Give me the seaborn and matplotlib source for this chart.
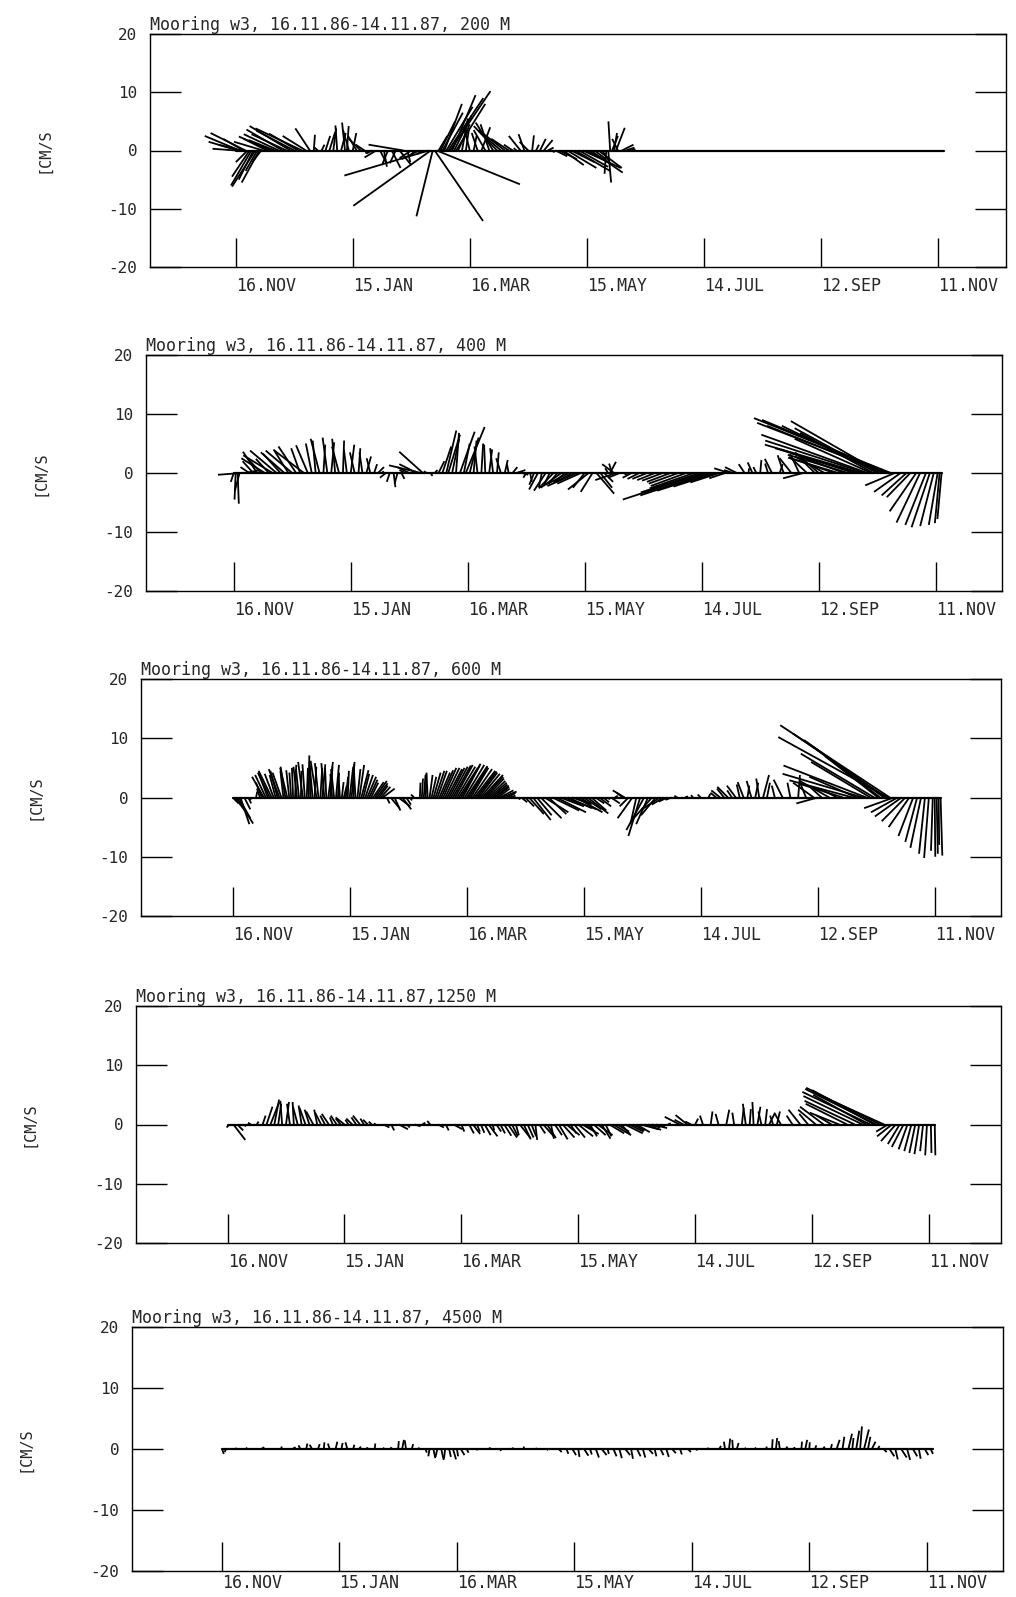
import numpy as np
import pandas as pd
import matplotlib
matplotlib.use("Agg")
import matplotlib.pyplot as plt
import seaborn as sns

# current sticks (day since 16.11.86, u east cm/s, v north cm/s)
sticks_200 = [
    (0, -4.0, 0.3), (1, -5.0, 1.5), (2, -6.0, 2.5), (3, -4.0, 1.0), (4, -3.5, 2.0), (5, -6.0, 3.0),
    (6, -2.0, -2.0), (7, -3.0, -4.5), (8, -3.5, -6.0), (9, -2.5, -5.0), (10, -4.0, -6.2), (11, -2.0, -3.5),
    (12, -3.0, -5.5), (13, -1.5, -2.0), (14, -5.0, 1.5), (16, -4.0, 2.0), (18, -5.5, 2.4), (20, -4.5, 1.8),
    (22, -6.0, 2.8), (24, -6.2, 3.6), (26, -6.0, 2.8), (28, -7.0, 4.2), (30, -6.5, 3.4), (32, -5.0, 2.9),
    (34, -8.0, 3.8), (36, -4.0, 2.5), (38, -2.5, 3.8), (40, 0.2, 2.7), (42, -0.5, 0.5), (44, 0.5, 1.0),
    (46, 0.8, 2.5), (48, 1.0, 3.2), (50, 0.5, 3.8), (52, -0.3, 4.3), (54, 0.8, 3.0), (56, -0.5, 4.8),
    (57, 0.3, 4.2), (58, -1.0, 3.5), (60, 0.6, 3.0), (62, -1.5, 2.5), (64, -2.0, 2.0), (66, -1.5, 1.0),
    (68, -0.5, -0.5), (70, -1.0, -0.5), (72, -2.0, -1.2), (74, 1.0, -2.0), (76, 0.5, -2.8), (78, -1.0, -2.5),
    (80, 1.5, -3.0), (82, -1.0, -2.2), (84, 2.0, -2.5), (86, -6.0, 1.0), (88, 0.5, -2.0), (90, -2.0, -1.3),
    (92, -1.0, -1.0), (94, -3.0, -1.5), (96, -1.0, -0.6), (99, -14.5, -4.3), (100, -13.3, -9.5),
    (101, -2.8, -11.3), (102, 8.3, -12.1), (103, 14.3, -5.8), (104, 1.5, 2.5), (105, 2.5, 5.0),
    (106, 3.5, 6.5), (107, 3.0, 8.0), (108, 4.5, 7.5), (109, 6.0, 9.0), (110, 6.9, 10.2), (111, 4.0, 9.5),
    (112, 3.0, 6.0), (113, 5.0, 8.0), (114, 2.0, 4.5), (116, 1.0, 5.5), (118, 0.5, 3.5), (120, -1.0, 4.0),
    (122, 0.5, 2.5), (124, -1.0, 3.0), (126, 1.5, 4.0), (128, -2.0, 3.5), (130, -1.5, 4.5), (132, -3.0, 4.8),
    (134, -4.0, 4.2), (136, -3.5, 3.0), (138, -4.5, 3.5), (140, -3.0, 2.0), (142, -1.5, 1.0), (144, -0.5, 0.4),
    (146, -2.0, 2.5), (148, -1.0, 2.8), (150, -1.5, 1.5), (152, 0.3, 2.6), (154, 0.5, 1.0), (156, 1.0, 2.0),
    (158, 1.5, 1.8), (160, 1.0, 0.5), (162, 0.5, -0.3), (164, 2.0, -1.0), (166, 3.0, -1.5), (168, 3.5, -2.5),
    (170, 5.0, -3.0), (172, 4.0, -2.0), (174, 6.0, -3.5), (176, 5.0, -2.8), (178, 6.5, -3.0), (180, 3.0, -1.5),
    (182, 5.5, -3.8), (184, 2.0, -1.5), (186, 4.0, -3.0), (188, 1.5, -2.5), (190, -0.3, -4.0), (191, 0.5, -5.5),
    (192, -0.3, 5.0), (193, 1.0, 2.5), (194, 0.5, 3.0), (195, 1.5, 3.9), (196, -1.0, 2.0), (198, 2.0, 1.0),
    (200, 1.5, 0.5), (202, 1.0, 0.2),
]

sticks_400 = [
    (0, -0.5, -1.5), (1, -0.2, -4.5), (2, 0.2, -5.2), (3, -0.8, -3.0), (4, -4.0, -0.3), (6, 2.5, 0.5),
    (8, -1.5, 1.0), (10, -1.8, 2.0), (12, -2.4, 3.6), (14, -2.5, 2.7), (16, -4.0, 2.5), (18, -2.2, 2.4),
    (20, -5.0, 3.0), (22, -4.5, 3.8), (24, -3.0, 3.3), (26, -4.0, 3.5), (28, -2.5, 4.0), (30, -4.5, 3.8),
    (32, -3.0, 4.5), (34, -1.5, 4.2), (36, -5.0, 3.8), (38, -2.0, 4.7), (40, -1.0, 5.0), (42, -0.5, 5.5),
    (44, -1.5, 5.8), (46, 0.3, 4.8), (48, -0.8, 6.0), (50, 0.5, 5.2), (52, -0.5, 5.8), (54, -1.2, 4.5),
    (56, 0.2, 5.5), (58, -0.5, 4.0), (60, 0.6, 4.8), (62, -0.8, 3.5), (64, 0.3, 4.2), (66, -0.5, 3.5),
    (68, 0.8, 2.8), (70, -0.6, 2.5), (72, 0.5, 1.5), (74, 1.0, 1.0), (76, 0.3, 0.3), (78, -1.0, -0.8),
    (80, -0.5, -1.5), (82, 0.3, -2.4), (84, -0.5, -1.8), (86, 0.5, -1.0), (88, -1.0, 0.5), (90, -2.0, 1.0),
    (92, 0.5, 0.3), (94, -3.0, 1.5), (96, -5.4, 1.3), (97, -4.0, 3.6), (99, -0.5, 0.3), (101, 0.3, -0.5),
    (103, 0.5, 0.5), (105, 1.0, 2.0), (107, 1.5, 4.5), (109, 1.7, 7.2), (110, 2.0, 6.5), (112, 1.2, 5.8),
    (114, 0.5, 6.8), (116, 2.5, 7.0), (118, 1.0, 5.0), (119, 3.2, 7.8), (121, 1.5, 6.0), (123, 0.5, 5.5),
    (125, -0.5, 4.5), (127, 0.3, 5.0), (129, -0.2, 4.8), (131, 0.5, 4.0), (133, -0.5, 4.2), (135, 0.3, 3.5),
    (137, -0.8, 2.5), (139, 0.5, 2.2), (141, -0.3, 1.5), (143, 0.8, 1.0), (145, 1.5, 0.5), (148, 1.0, -0.3),
    (150, -0.5, -0.8), (152, 0.3, -1.5), (154, -0.8, -2.0), (156, -1.5, -2.8), (158, -0.5, -2.4),
    (160, -2.0, -3.0), (162, -1.0, -2.2), (164, -2.5, -2.6), (166, -1.5, -1.8), (168, -3.5, -2.5),
    (170, -2.0, -1.6), (172, -4.0, -2.0), (174, -3.0, -1.5), (176, -5.0, -2.2), (178, -4.0, -1.8),
    (180, -2.0, -2.5), (182, -3.5, -2.8), (184, -2.0, -3.2), (186, 3.0, -3.5), (188, 2.0, -2.5),
    (190, 1.5, -1.5), (192, -0.5, 0.8), (193, 1.0, 1.9), (194, -0.5, 1.6), (195, -2.0, 1.5),
    (196, -3.5, -1.2), (198, -2.0, -0.8), (200, 0.5, -0.3), (204, -1.5, -0.8), (208, -2.0, -1.0),
    (212, -2.5, -1.0), (216, -3.0, -1.2), (220, -3.5, -1.3), (224, -4.0, -1.5), (228, -5.0, -1.8),
    (232, -6.0, -2.2), (236, -7.5, -2.6), (239, -10.0, -3.3), (241, -13.7, -4.5), (243, -11.4, -3.8),
    (245, -9.2, -3.0), (247, -7.1, -2.3), (249, -4.9, -1.6), (252, -2.7, -0.9), (254, -2.5, 0.8),
    (256, -1.5, 0.5), (258, -2.0, 1.0), (262, -1.0, 1.5), (264, 0.1, 0.8), (266, -0.8, 1.8), (268, -0.5, 1.0),
    (270, 0.2, 2.2), (274, -0.5, 1.6), (276, -1.2, 2.4), (280, 0.5, 1.5), (282, -1.0, 3.0), (286, -2.0, 2.5),
    (290, -1.5, 3.2), (292, -3.4, -0.9), (294, -3.0, 2.8), (298, -2.0, 2.0), (300, -4.0, 3.5),
    (303, -5.0, 2.8), (308, -7.3, 2.5), (310, -8.5, 2.6), (313, -9.0, 3.4), (315, -10.2, 3.1),
    (318, -12.4, 4.0), (320, -14.0, 4.2), (322, -16.4, 4.8), (324, -17.0, 5.5), (325, -18.0, 6.5),
    (327, -13.0, 5.8), (328, -12.4, 6.8), (330, -14.0, 7.6), (331, -16.5, 8.0), (332, -15.3, 8.8),
    (334, -20.0, 8.0), (335, -22.0, 8.5), (336, -21.5, 9.0), (337, -23.2, 9.3), (339, -5.0, -2.1),
    (342, -4.5, -3.2), (345, -4.2, -3.8), (347, -4.0, -4.1), (350, -4.5, -6.5), (352, -4.0, -8.4),
    (355, -3.5, -8.8), (357, -3.1, -9.2), (359, -2.3, -9.0), (361, -1.5, -8.8), (362, -0.8, -8.5),
    (363, -0.7, -7.8),
]

sticks_600 = [
    (0, 1.0, -1.0), (1, 2.0, -2.5), (2, 2.8, -4.4), (3, 2.0, -3.5), (4, 1.5, -4.5), (6, 1.0, -2.0),
    (8, 0.5, -1.0), (10, -0.5, -0.5), (12, 0.2, 1.0), (14, -0.5, 1.5), (15, -1.0, 2.5), (16, -2.0, 3.5),
    (17, -1.8, 3.8), (18, -1.5, 4.0), (19, -2.0, 4.2), (20, -2.2, 4.5), (21, -1.5, 4.0), (22, -1.0, 3.8),
    (23, -1.2, 4.5), (24, -1.8, 4.8), (25, -1.5, 4.2), (26, -0.5, 4.5), (27, -0.8, 5.2), (28, -1.2, 5.0),
    (29, -0.5, 4.6), (30, -0.3, 4.2), (31, -0.2, 5.0), (32, 0.2, 5.5), (33, -0.6, 5.2), (34, -0.5, 4.8),
    (35, 0.1, 4.5), (36, -0.8, 6.0), (37, -0.4, 5.6), (38, 0.2, 5.0), (39, 0.1, 7.1), (40, -0.2, 6.0),
    (41, -0.5, 5.5), (42, 0.3, 5.2), (43, -1.0, 6.2), (44, -0.6, 5.8), (45, 0.3, 5.0), (46, 0.5, 5.6),
    (47, -0.5, 5.8), (48, -0.2, 5.0), (49, 0.8, 6.0), (50, 0.4, 5.2), (51, -0.3, 4.0), (52, -0.5, 4.8),
    (53, 0.5, 5.5), (54, 0.2, 4.2), (55, -0.2, 3.0), (56, 0.3, 2.6), (57, 0.5, 2.0), (58, 0.4, 3.5),
    (59, 0.2, 4.5), (60, 0.6, 5.2), (61, 0.5, 6.0), (62, 0.1, 5.6), (63, -0.3, 5.0), (64, 0.5, 4.8),
    (65, 0.8, 5.5), (66, 1.2, 4.6), (67, 1.0, 4.0), (68, 1.3, 3.8), (69, 1.5, 3.5), (70, 1.4, 3.0),
    (71, 1.2, 2.5), (72, 1.8, 2.6), (73, 2.0, 2.8), (74, 1.8, 2.4), (75, 1.5, 2.0), (76, 1.6, 1.8),
    (77, 2.0, 1.5), (79, 0.5, -1.0), (81, 1.5, -1.8), (83, 1.0, -2.2), (85, 2.0, -1.5), (87, 1.5, -2.0),
    (89, 0.8, -1.2), (91, 0.3, -0.5), (93, -0.5, 0.5), (96, 0.1, 2.5), (97, 0.2, 3.2), (98, 0.3, 3.8),
    (99, 0.1, 4.0), (100, -0.2, 4.2), (101, 0.5, 3.8), (102, 0.8, 3.5), (103, 1.2, 4.2), (104, 1.5, 4.5),
    (105, 1.6, 4.5), (106, 1.8, 4.2), (107, 2.0, 4.6), (108, 2.2, 5.0), (109, 2.4, 5.0), (110, 2.5, 4.8),
    (111, 2.6, 5.0), (112, 2.8, 5.2), (113, 3.0, 5.4), (114, 3.0, 5.5), (115, 3.1, 5.2), (116, 3.2, 5.0),
    (117, 3.2, 5.4), (118, 3.0, 5.7), (119, 3.3, 5.5), (120, 3.5, 5.3), (121, 3.2, 5.1), (122, 3.0, 5.0),
    (123, 3.3, 4.8), (124, 3.5, 4.5), (125, 3.4, 4.4), (126, 3.2, 4.2), (127, 3.3, 4.0), (128, 3.5, 3.8),
    (129, 3.2, 3.5), (130, 3.0, 3.2), (131, 2.9, 2.8), (132, 2.8, 2.5), (133, 2.6, 2.2), (134, 2.5, 2.0),
    (135, 2.2, 1.8), (136, 2.0, 1.5), (137, 2.3, 1.2), (138, 2.5, 1.0), (139, 2.0, 0.8), (140, 1.5, 0.6),
    (142, 1.0, 0.3), (146, 0.5, -0.3), (148, 1.0, -0.8), (150, 1.5, -1.5), (152, 2.5, -2.8),
    (154, 3.0, -3.8), (156, 2.5, -3.0), (158, 3.5, -3.5), (160, 4.0, -2.5), (162, 3.0, -2.8), (164, 4.5, -2.2),
    (166, 5.0, -2.5), (168, 4.0, -1.5), (170, 5.5, -2.0), (172, 4.0, -1.8), (174, 3.0, -1.0), (176, 4.5, -2.5),
    (178, 2.0, -1.2), (180, 3.0, -2.0), (182, 3.5, -2.7), (184, 2.5, -2.2), (186, 1.5, -1.0), (188, 2.0, -1.5),
    (190, 1.0, -0.8), (192, 0.5, -0.3), (194, 1.5, -1.0), (196, 0.5, 0.3), (200, -1.0, 0.8), (201, -2.0, 1.2),
    (203, -1.5, -1.5), (205, -2.5, -3.5), (207, -1.0, -4.5), (209, -2.0, -6.5), (211, -3.0, -5.5),
    (213, -2.0, -4.5), (215, -3.5, -4.0), (217, -2.5, -3.0), (219, -3.0, -2.0), (221, -2.0, -1.2),
    (223, -1.5, -0.7), (225, -1.0, -0.4), (228, -0.5, 0.3), (232, 0.5, 0.2), (236, -0.3, 0.4), (240, -0.5, 0.5),
    (244, 0.3, 0.6), (248, -1.0, 0.8), (250, -1.5, 1.2), (252, -1.2, 1.5), (254, -1.8, 1.8), (256, -0.8, 1.2),
    (258, -1.5, 2.0), (260, -0.5, 2.2), (262, -1.0, 2.6), (264, 0.3, 2.0), (266, -0.8, 2.8), (268, 0.5, 2.5),
    (270, -0.5, 3.2), (272, 1.0, 3.8), (274, 0.5, 2.5), (278, -0.5, 2.0), (282, -1.5, 3.0), (286, -0.5, 2.5),
    (290, 0.3, 3.8), (294, -1.0, 2.5), (298, -3.5, 2.5), (300, -3.6, -1.0), (302, -2.0, 1.8), (306, -5.0, 2.8),
    (310, -3.0, 1.5), (313, -7.0, 2.2), (318, -10.7, 2.9), (320, -8.0, 3.5), (323, -13.5, 4.0),
    (325, -14.0, 5.4), (327, -10.0, 6.0), (329, -12.4, 7.4), (331, -9.0, 7.0), (332, -11.2, 8.5),
    (334, -13.5, 9.7), (335, -15.7, 10.8), (336, -18.5, 10.2), (337, -18.5, 12.2), (339, -5.0, -1.8),
    (341, -4.5, -2.5), (343, -4.5, -3.2), (345, -4.0, -4.0), (347, -3.5, -5.0), (349, -2.5, -6.5),
    (351, -2.0, -7.5), (353, -1.8, -8.5), (355, -1.0, -9.5), (357, -0.8, -10.2), (359, -0.3, -9.0),
    (360, 0.1, -10.0), (361, 0.2, -9.5), (362, 0.1, -8.0), (363, 0.3, -9.8),
]

sticks_1250 = [
    (1, -0.5, -0.5), (3, 2.0, -2.6), (5, 1.0, -1.0), (8, 0.5, -0.3), (12, -0.5, 0.3), (15, 0.3, 0.5),
    (18, 0.5, 1.5), (20, 1.0, 3.0), (22, 1.5, 3.8), (24, 0.8, 4.2), (26, 0.5, 3.5), (28, -0.3, 4.0),
    (30, 0.5, 3.8), (32, -0.5, 3.5), (34, -0.2, 3.8), (36, -0.8, 3.0), (38, -0.5, 3.2), (40, -1.0, 2.8),
    (42, -0.8, 2.5), (44, -1.2, 2.2), (46, -0.5, 2.5), (48, -1.0, 2.0), (50, -0.8, 1.5), (52, -1.2, 1.8),
    (54, -0.5, 1.2), (56, -1.0, 1.5), (58, -0.8, 1.0), (60, -1.5, 1.2), (62, -0.5, 0.8), (64, -1.0, 1.0),
    (66, -0.8, 1.2), (68, -1.2, 1.5), (70, -0.6, 1.0), (72, -0.8, 0.8), (74, -0.5, 0.5), (76, -0.3, 0.2),
    (80, 1.0, -0.5), (84, 0.5, -1.0), (88, 1.5, -0.8), (92, 0.5, -0.5), (96, 1.0, -0.3), (100, 0.5, 0.3),
    (104, -0.5, 0.6), (108, 1.0, -0.5), (112, 0.5, -1.0), (116, 1.5, -0.8), (120, 0.5, -1.2), (124, 0.8, -1.5),
    (126, 1.2, -1.6), (128, 0.5, -1.2), (130, 0.6, -1.4), (132, 1.0, -1.8), (134, 1.5, -2.0), (136, 0.3, -1.0),
    (138, 0.8, -1.2), (140, 0.8, -1.5), (142, 1.2, -1.9), (144, 1.5, -2.2), (146, 1.0, -2.0), (148, 0.5, -1.8),
    (150, 1.8, -2.3), (152, 1.2, -2.5), (154, 1.0, -2.2), (156, 0.8, -2.0), (158, 0.3, -2.6), (160, 1.0, -1.5),
    (162, 1.8, -2.0), (164, 1.5, -2.3), (166, 0.5, -2.4), (168, 1.2, -1.8), (170, 1.5, -2.5), (172, 2.0, -2.2),
    (174, 2.2, -1.8), (176, 1.0, -1.5), (178, 1.8, -2.2), (180, 2.5, -2.0), (182, 2.8, -1.6), (184, 1.5, -1.2),
    (186, 1.2, -2.0), (188, 2.0, -1.8), (190, 2.5, -1.8), (192, 1.5, -2.4), (194, 1.0, -2.0), (196, 2.5, -1.5),
    (198, 3.0, -1.8), (200, 2.0, -1.2), (202, 1.5, -1.6), (204, 3.0, -1.5), (206, 2.5, -1.2), (208, 2.0, -1.0),
    (210, 2.2, -1.3), (212, 3.0, -0.8), (214, 2.8, -0.9), (216, 2.0, -0.5), (218, 2.5, -0.6), (220, 1.5, -0.3),
    (226, 0.5, 0.2), (232, -2.5, 1.3), (234, -1.5, 0.8), (236, -2.0, 1.6),
    (238, -1.0, 0.5), (240, 0.5, 1.0), (244, -0.5, 1.5), (248, 0.3, 2.2), (252, -0.5, 1.8), (256, 0.5, 2.5),
    (260, -0.3, 2.0), (264, 0.3, 2.8), (266, -0.5, 3.5), (268, 0.2, 2.6), (270, -0.2, 3.8), (272, 0.5, 3.0),
    (274, -0.5, 2.2), (276, 0.3, 2.6), (278, 1.0, 2.0), (280, -0.5, 1.5), (282, 0.5, 2.2), (284, -1.0, 1.8),
    (290, -1.0, 1.5), (294, -2.0, 2.5), (298, -1.5, 1.8), (302, -3.0, 2.5), (306, -4.0, 3.0), (310, -2.5, 1.5),
    (314, -5.0, 2.0), (318, -7.0, 3.5), (322, -8.5, 4.0), (326, -10.0, 4.8), (328, -9.0, 5.0),
    (330, -11.5, 5.5), (332, -10.5, 5.8), (333, -12.0, 6.0), (335, -12.5, 6.2), (337, -11.0, 5.0),
    (339, -2.0, -1.2), (341, -2.5, -2.0), (343, -2.5, -2.8), (345, -2.0, -3.3), (347, -2.0, -3.8),
    (349, -1.5, -4.2), (351, -1.2, -4.5), (353, -1.0, -4.8), (355, -0.8, -5.0), (357, -0.5, -4.5),
    (359, -0.3, -5.2), (361, 0.1, -4.8), (363, 0.1, -5.2),
]

sticks_4500 = [
    (0, 0.3, -0.8), (2, -0.2, -0.5), (6, 0.5, 0.1), (12, 0.3, 0.2), (20, 0.5, 0.3), (30, 0.2, 0.4),
    (36, 0.5, 0.3), (40, -0.3, 0.6), (43, 0.2, 0.9), (46, -0.4, 0.7), (49, 0.3, 0.8), (52, 0.1, 1.1),
    (55, -0.3, 0.9), (58, 0.3, 1.2), (61, 0.2, 1.0), (64, -0.3, 1.1), (67, 0.2, 0.7), (70, 0.3, 0.4),
    (74, 0.1, 0.3), (78, 0.1, 0.9), (82, 0.3, 0.2), (86, 0.2, 0.3), (90, 0.1, 1.3), (92, 0.3, 1.5),
    (94, -0.2, 1.4), (97, 0.2, 0.8), (100, 0.3, 0.2), (104, 0.2, -0.6), (106, -0.2, -1.2), (108, 0.3, -1.5),
    (110, -0.3, -1.3), (112, 0.4, -1.8), (114, -0.2, -1.6), (116, 0.3, -1.3), (118, 0.5, -1.7),
    (120, 0.2, -1.2), (122, 0.6, -1.0), (125, 0.3, -0.6), (130, 0.2, -0.2), (136, 0.4, 0.2), (142, 0.2, -0.3),
    (148, 0.3, 0.2), (154, 0.1, 0.4), (160, 0.3, 0.1), (166, 0.2, -0.2), (172, 0.5, -0.5), (176, 0.3, -0.8),
    (179, 0.6, -1.0), (182, 0.2, -1.3), (185, 0.7, -1.1), (188, 0.3, -0.9), (191, 0.5, -1.4), (194, 0.8, -1.0),
    (197, 0.2, -0.8), (200, 0.5, -1.2), (203, 0.4, -1.5), (206, 0.8, -1.0), (209, 0.3, -1.6), (212, 0.6, -1.2),
    (215, 0.4, -1.4), (218, 0.7, -0.8), (221, 0.3, -1.2), (224, 0.5, -1.0), (227, 0.4, -1.3), (230, 0.6, -0.7),
    (234, 0.3, -0.9), (238, 0.5, -0.5), (242, 0.3, -0.2), (248, 0.2, 0.2), (254, 0.3, 0.5), (257, -0.2, 1.2),
    (259, 0.2, 1.7), (261, -0.1, 1.5), (263, 0.3, 1.0), (267, 0.2, 0.2), (272, 0.3, 0.2), (278, 0.1, 0.4),
    (281, 0.1, 1.6), (283, 0.2, 1.8), (285, -0.2, 1.3), (288, 0.3, 0.4), (292, 0.2, 0.3), (296, 0.1, 1.2),
    (298, 0.3, 1.5), (300, 0.1, 1.1), (303, 0.2, 0.6), (307, 0.3, 0.4), (311, 0.2, 0.8), (314, 0.5, 1.5),
    (317, 0.3, 2.0), (320, 0.6, 2.5), (322, 0.2, 1.8), (324, 0.5, 3.0), (326, 0.3, 3.7), (328, 0.8, 3.2),
    (330, 0.4, 2.0), (332, 0.6, 1.2), (335, 0.3, 0.5), (338, 0.5, -0.5), (341, 0.8, -1.2), (344, 0.4, -1.7),
    (347, 0.9, -1.4), (350, 0.5, -1.8), (353, 0.7, -1.2), (356, 0.3, -1.6), (359, 0.6, -1.0), (362, 0.4, -0.8),
]

depth_titles = [
    "Mooring w3, 16.11.86-14.11.87, 200 M",
    "Mooring w3, 16.11.86-14.11.87, 400 M",
    "Mooring w3, 16.11.86-14.11.87, 600 M",
    "Mooring w3, 16.11.86-14.11.87,1250 M",
    "Mooring w3, 16.11.86-14.11.87, 4500 M",
]
tick_days = [0, 60, 120, 180, 240, 300, 360]
tick_labels = ["16.NOV", "15.JAN", "16.MAR", "15.MAY", "14.JUL", "12.SEP", "11.NOV"]
y_ticks = [-20, -10, 0, 10, 20]
y_labels = ["-20", "-10", "0", "10", "20"]
record = [0, 363]

sns.set_theme(style="white")
plt.rcParams["font.family"] = ["DejaVu Sans Mono", "DejaVu Sans"]

W, H = 1016, 1597
# panel frames in page pixels: left, top, right, bottom
frames = [(150, 34, 1006, 267), (146, 355, 1002, 591), (141, 679, 1001, 916),
          (136, 1006, 1001, 1243), (132, 1327, 1003, 1571)]
xlims = [(-44, 395), (-45, 394), (-47, 394), (-47, 397), (-46, 399)]
label_pads = [7, 7, 7, 7, 2]

fig = plt.figure(figsize=(W / 100, H / 100), dpi=100)
panels = [sticks_200, sticks_400, sticks_600, sticks_1250, sticks_4500]

for sticks, title, (l, t, r, b), xl, xpad in zip(panels, depth_titles, frames, xlims, label_pads):
    ax = fig.add_axes([l / W, 1 - b / H, (r - l) / W, (b - t) / H])
    df = pd.DataFrame(sticks, columns=["day", "u", "v"])

    sns.lineplot(x=record, y=[0, 0], color="black", linewidth=1.6, ax=ax)
    ax.quiver(df["day"], np.zeros(len(df)), df["u"], df["v"],
              angles="uv", scale_units="y", scale=1, units="dots", width=1.8,
              headwidth=0, headlength=0, headaxislength=0, minlength=0,
              pivot="tail", color="black")

    ax.set_xlim(*xl)
    ax.set_ylim(-20, 20)
    ax.set_xticks(tick_days)
    ax.set_xticklabels(tick_labels, ha="left", fontsize=12)
    ax.set_yticks(y_ticks)
    ax.set_yticklabels(y_labels, fontsize=11.5)
    ax.tick_params(axis="x", direction="in", length=21, width=1, color="black",
                   bottom=True, top=False, pad=xpad)
    ax.tick_params(axis="y", direction="in", length=22, width=1, color="black",
                   left=True, right=True, labelleft=True, labelright=False, pad=9)
    for s in ax.spines.values():
        s.set_color("black")
        s.set_linewidth(1.0)
    ax.set_title(title, loc="left", fontsize=12, pad=3)
    ax.set_ylabel("[CM/S", fontsize=11)
    ax.yaxis.set_label_coords(-0.115, 0.5)
    ax.set_xlabel("")

fig.savefig("out.png", dpi=100, facecolor="white")
